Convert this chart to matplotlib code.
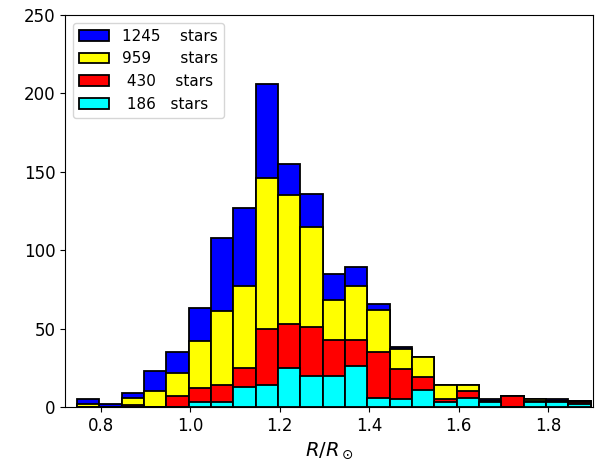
import numpy as np
import matplotlib
matplotlib.use("Agg")
import matplotlib.pyplot as plt

# Bin edges (R/R_sun)
bin_start = 0.747
bin_width = 0.0499
n_bins = 23
edges = bin_start + bin_width * np.arange(n_bins + 1)

counts_1245 = [5, 2, 9, 23, 35, 63, 108, 127, 206, 155, 136, 85, 89, 66, 38, 32, 14, 14, 5, 7, 5, 5, 4]
counts_959 = [2, 0, 6, 10, 22, 42, 61, 77, 146, 135, 115, 68, 77, 62, 37, 32, 14, 14, 4, 7, 5, 4, 4]
counts_430 = [0, 0, 1, 0, 7, 12, 14, 25, 50, 53, 51, 43, 43, 35, 24, 19, 5, 10, 4, 7, 4, 4, 3]
counts_186 = [0, 0, 0, 0, 0, 3, 3, 13, 14, 25, 20, 20, 26, 6, 5, 11, 3, 6, 3, 0, 3, 3, 2]

labels = ["1245    stars", "959      stars", " 430    stars", " 186   stars"]
colors = ["blue", "yellow", "red", "cyan"]
series = [counts_1245, counts_959, counts_430, counts_186]

fig = plt.figure(figsize=(6.06, 4.65), dpi=100)
ax = fig.add_axes([65/606, 1 - 407/465, (593 - 65)/606, (407 - 15)/465])

widths = np.diff(edges)
for vals, c, lab in zip(series, colors, labels):
    ax.bar(edges[:-1], vals, width=widths, align="edge", color=c,
           edgecolor="black", linewidth=1.3, label=lab)

ax.set_xlim(0.72, 1.9)
ax.set_ylim(0, 250)
ax.set_xticks([0.8, 1.0, 1.2, 1.4, 1.6, 1.8])
ax.set_yticks([0, 50, 100, 150, 200, 250])
ax.tick_params(labelsize=12)
ax.set_xlabel(r"$R/R_\odot$", fontsize=14)
ax.legend(loc="upper left", fontsize=11)

fig.savefig("out.png", dpi=100)
